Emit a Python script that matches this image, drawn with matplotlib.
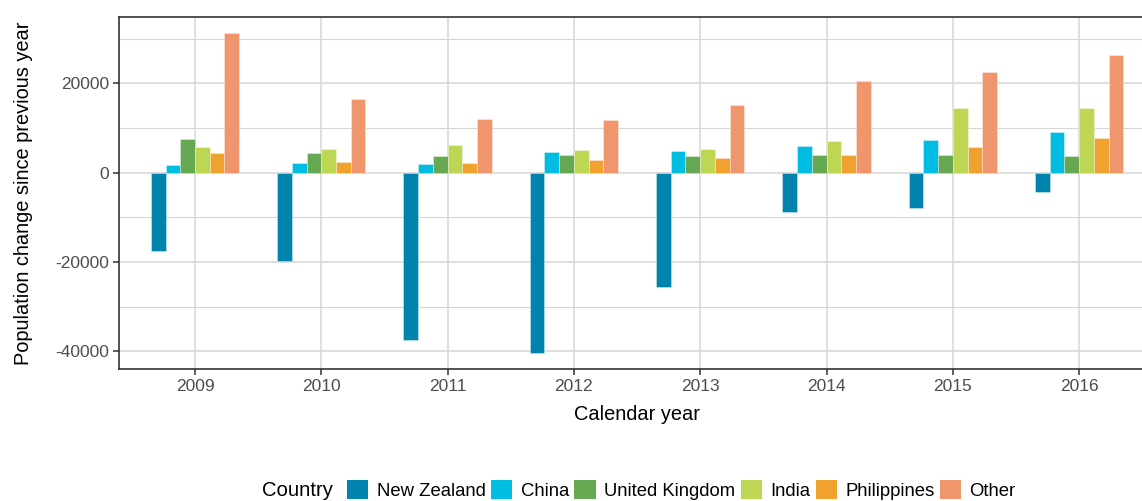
import numpy as np
import matplotlib
matplotlib.use("Agg")
import matplotlib.pyplot as plt
from matplotlib.ticker import MultipleLocator
from matplotlib.patches import Patch

plt.rcParams['font.family'] = ['Liberation Sans', 'DejaVu Sans']
plt.rcParams['axes.unicode_minus'] = False

years = ['2009', '2010', '2011', '2012', '2013', '2014', '2015', '2016']
countries = ['New Zealand', 'China', 'United Kingdom', 'India', 'Philippines', 'Other']
colours = ['#0083AD', '#00BDE1', '#67A853', '#BDD754', '#EFA22E', '#EF966D']

new_zealand = [-17540, -19770, -37380, -40290, -25660, -8800, -7830, -4400]
china = [1640, 2160, 1940, 4630, 4770, 5970, 7310, 9100]
united_kingdom = [7460, 4480, 3660, 4030, 3800, 4030, 4030, 3800]
india = [5740, 5300, 6190, 5150, 5300, 7160, 14550, 14550]
philippines = [4330, 2390, 2160, 2910, 3210, 4030, 5820, 7680]
other = [31260, 16490, 12010, 11790, 15070, 20590, 22600, 26410]

series = [new_zealand, china, united_kingdom, india, philippines, other]

fig = plt.figure(figsize=(11.42, 5.01), dpi=100)
ax = fig.add_axes([119.2 / 1142, 1 - 368.7 / 501, 1035.7 / 1142, (368.7 - 17.3) / 501])

x = np.arange(len(years))
w = 0.7 / len(series)
for i, (vals, col) in enumerate(zip(series, colours)):
    ax.bar(x + (i - 2.5) * w, vals, width=w, color=col,
           edgecolor=(1, 1, 1, 0.4), linewidth=0.6, zorder=3)

ax.set_xlim(-0.6, 7.6)
ax.set_ylim(-43900, 34800)
ax.set_xticks(x)
ax.set_xticklabels(years)
ax.yaxis.set_major_locator(MultipleLocator(20000))
ax.yaxis.set_minor_locator(MultipleLocator(10000))
ax.tick_params(axis='y', which='minor', length=0)

ax.grid(True, which='major', axis='both', color='#d6d6d6', linewidth=1.1, zorder=0)
ax.grid(True, which='minor', axis='y', color='#d6d6d6', linewidth=0.8, zorder=0)
ax.set_axisbelow(True)

for s in ['left', 'top', 'bottom']:
    ax.spines[s].set_color('#333333')
    ax.spines[s].set_linewidth(1.2)
ax.spines['right'].set_visible(False)

ax.tick_params(axis='both', which='major', colors='#333333', length=4, width=1.1,
               labelsize=12.5, labelcolor='#4d4d4d')

ax.set_xlabel('Calendar year', fontsize=14.4, labelpad=8)
ax.set_ylabel('Population change since previous year', fontsize=14.4)
ax.yaxis.set_label_coords(-0.083, 0.5)

handles = [Patch(facecolor=c, edgecolor='none') for c in colours]
fig.text(262 / 1142, 1 - 491 / 501, 'Country', fontsize=14.6, ha='left', va='center')
fig.legend(handles, countries, loc='center left', bbox_to_anchor=(347 / 1142, 1 - 490 / 501),
           ncol=6, frameon=False, fontsize=13.3, handlelength=1.15, handleheight=1.15,
           handletextpad=0.45, columnspacing=0.3, borderaxespad=0, borderpad=0)

fig.savefig('out.png', dpi=100)
